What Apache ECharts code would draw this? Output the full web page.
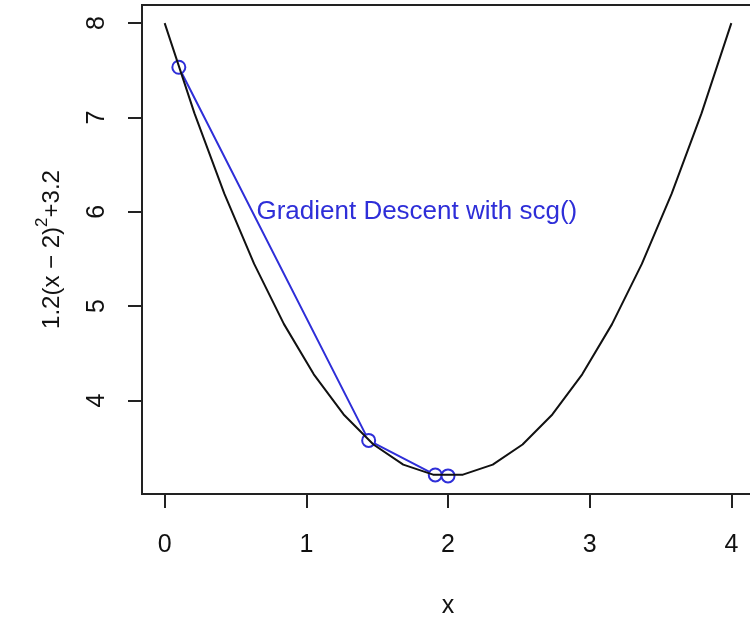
<!DOCTYPE html>
<html>
<head>
<meta charset="utf-8">
<script src="https://cdn.jsdelivr.net/npm/echarts@6/dist/echarts.min.js"></script>
<style>
  html, body { margin: 0; padding: 0; background: #fff; }
  #main { width: 750px; height: 617px; }
</style>
</head>
<body>
<div id="main"></div>
<script>
// f(x) = 1.2(x-2)^2 + 3.2 sampled at 20 points over [0, 4]
var curveX = [0, 0.2105, 0.4211, 0.6316, 0.8421, 1.0526, 1.2632, 1.4737, 1.6842, 1.8947,
  2.1053, 2.3158, 2.5263, 2.7368, 2.9474, 3.1579, 3.3684, 3.5789, 3.7895, 4];
var curveY = [8.0, 7.0427, 6.1917, 5.4471, 4.8089, 4.2770, 3.8515, 3.5324, 3.3197, 3.2133,
  3.2133, 3.3197, 3.5324, 3.8515, 4.2770, 4.8089, 5.4471, 6.1917, 7.0427, 8.0];

// scg() iterates
var scgX = [0.1, 1.44, 1.91, 2.0];
var scgY = [7.532, 3.576, 3.21, 3.2];

var xTicks = [0, 1, 2, 3, 4];
var yTicks = [4, 5, 6, 7, 8];

var noteText = 'Gradient Descent with scg()';
var noteAt = [1.78, 6];

var font = 'Liberation Sans, Arial, Helvetica, sans-serif';
var blue = '#2e2ed8';

function pairs(xs, ys) {
  return xs.map(function (x, i) { return [x, ys[i]]; });
}

var myChart = echarts.init(document.getElementById('main'));
var option = {
  animation: false,
  backgroundColor: '#fff',
  grid: {
    left: 142,
    right: -4,
    top: 5,
    bottom: 123,
    outerBoundsMode: 'none',
    containLabel: false,
    show: true,
    borderColor: '#222',
    borderWidth: 2
  },
  xAxis: {
    type: 'value',
    min: -0.16,
    max: 4.16,
    name: 'x',
    nameLocation: 'middle',
    nameGap: 100,
    nameTextStyle: { color: '#111', fontSize: 25, fontFamily: font },
    axisLine: { show: false, onZero: false },
    splitLine: { show: false },
    axisTick: {
      show: true, length: 14, customValues: xTicks,
      lineStyle: { color: '#222', width: 2 }
    },
    axisLabel: {
      customValues: xTicks, margin: 39,
      color: '#111', fontSize: 25, fontFamily: font
    }
  },
  yAxis: {
    type: 'value',
    min: 3.008,
    max: 8.192,
    name: '{a|1.2(x \u2212 2)}{s|2}{a|+3.2}',
    nameLocation: 'middle',
    nameGap: 78,
    nameRotate: 90,
    nameTextStyle: {
      color: '#111', fontFamily: font,
      rich: {
        a: { fontSize: 24, lineHeight: 30, verticalAlign: 'bottom', fontFamily: font, color: '#111' },
        s: { fontSize: 17, lineHeight: 30, verticalAlign: 'top', fontFamily: font, color: '#111' }
      }
    },
    axisLine: { show: false, onZero: false },
    splitLine: { show: false },
    axisTick: {
      show: true, length: 14, customValues: yTicks,
      lineStyle: { color: '#222', width: 2 }
    },
    axisLabel: {
      customValues: yTicks, margin: 32, rotate: 90,
      color: '#111', fontSize: 25, fontFamily: font
    }
  },
  series: [
    {
      name: 'scg',
      type: 'line',
      data: pairs(scgX, scgY),
      symbol: 'emptyCircle',
      symbolSize: 13,
      itemStyle: { color: blue, borderWidth: 2 },
      lineStyle: { color: blue, width: 2 },
      z: 2
    },
    {
      name: 'f',
      type: 'line',
      data: pairs(curveX, curveY),
      showSymbol: false,
      lineStyle: { color: '#111', width: 2 },
      z: 3
    }
  ]
};
myChart.setOption(option);

var p = myChart.convertToPixel({ gridIndex: 0 }, noteAt);
myChart.setOption({
  graphic: [{
    type: 'text',
    x: p[0],
    y: p[1],
    style: {
      text: noteText,
      fill: blue,
      font: '26px ' + font,
      textAlign: 'center',
      textVerticalAlign: 'middle'
    },
    z: 10
  }]
});
</script>
</body>
</html>
